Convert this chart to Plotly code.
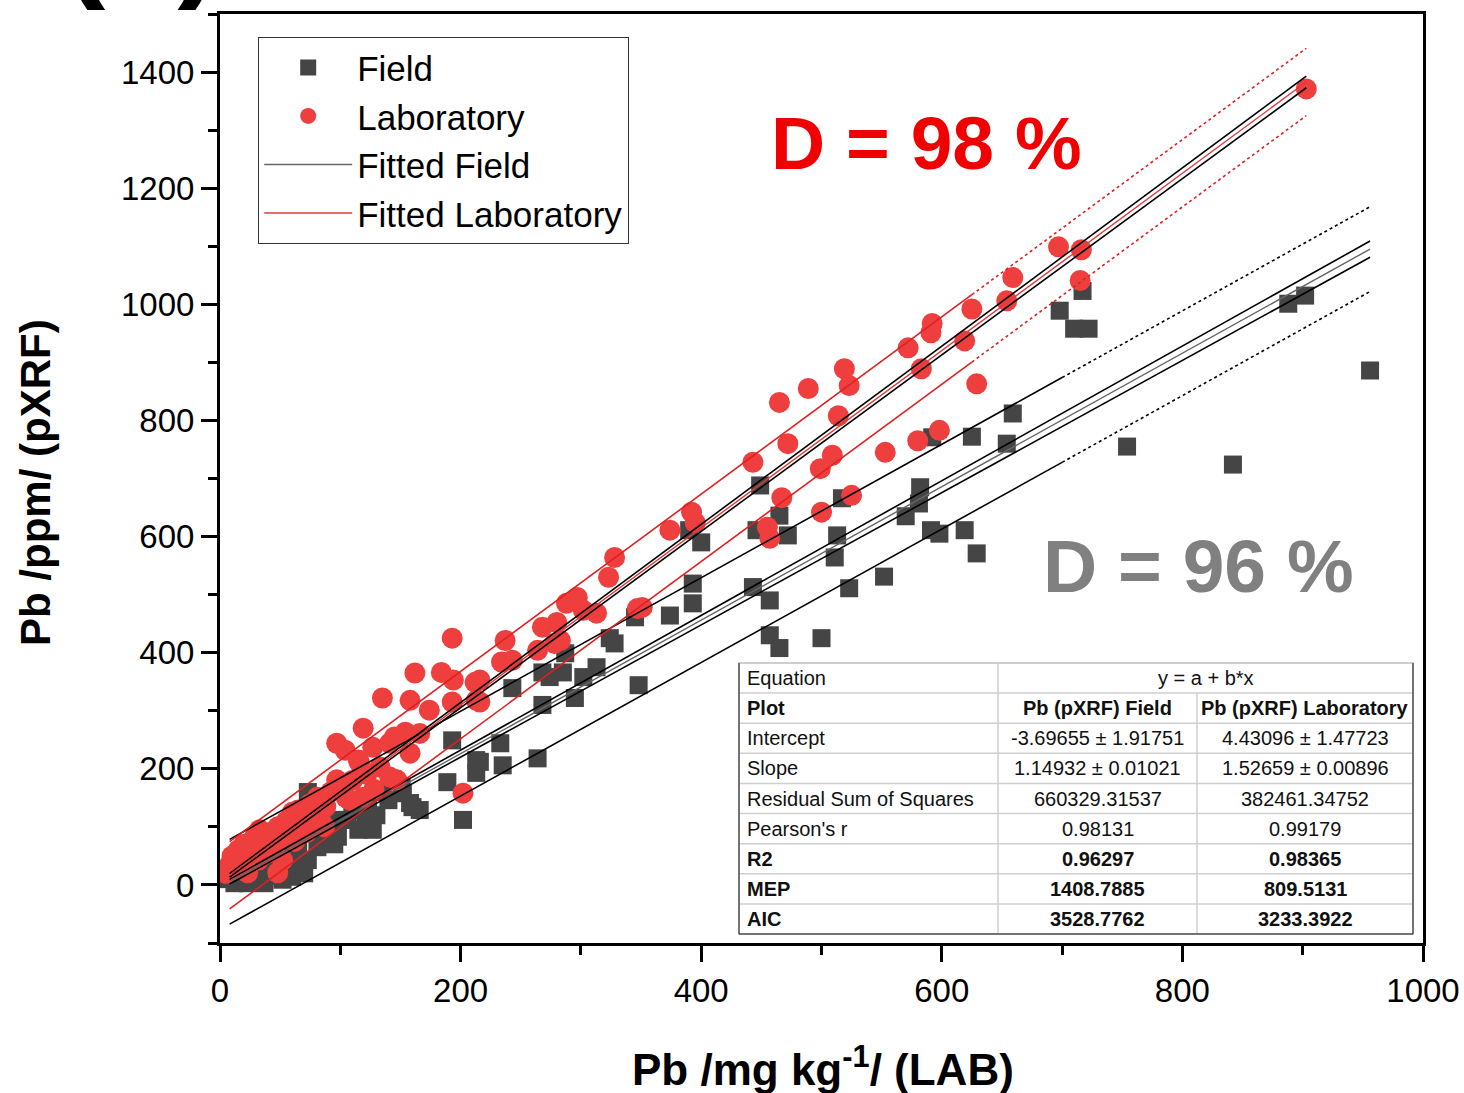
import plotly.graph_objects as go

# ---------------- data ----------------
# Field measurements: Pb by lab (x) vs Pb by pXRF in the field (y)
field_lab = [956, 902, 888, 842, 754, 717, 698, 710, 722, 659, 625, 654, 592, 582, 581, 570, 552,
             629, 619, 598, 591, 523, 517, 513, 511, 500, 465, 457, 457, 443, 449, 465, 472, 446,
             390, 400, 393, 393, 374, 345, 324, 328, 313, 302, 287, 285, 274, 295, 268, 243, 348,
             233, 235, 216, 264, 268, 213, 213, 193, 189, 158, 166, 202, 119, 102, 127, 97, 152,
             73, 101, 87, 106, 121, 123, 140, 151, 160, 85, 98, 81, 73, 68, 60, 52, 37, 23, 12,
             29, 62, 52, 5, 8, 15, 18, 25, 30, 35, 40, 45, 50, 55, 65, 70, 78, 90, 95, 110, 115,
             130, 135]
field_pxrf = [886, 1015, 1001, 724, 755, 1023, 989, 958, 958, 812, 772, 760, 771, 685, 657, 635, 531,
              571, 611, 605, 611, 511, 666, 602, 564, 425, 408, 430, 490, 513, 688, 636, 602, 611,
              611, 590, 519, 485, 464, 461, 425, 416, 375, 358, 399, 366, 358, 322, 310, 339, 344,
              244, 206, 212, 218, 366, 215, 193, 249, 177, 141, 129, 112, 129, 112, 95, 89, 158,
              160, 175, 138, 112, 112, 146, 146, 169, 134, 95, 83, 65, 43, 26, 14, 9, 3, 3, 3,
              14, 55, 31, 10, 20, 8, 25, 12, 30, 20, 40, 15, 50, 35, 70, 20, 90, 110, 70, 140, 95,
              120, 160]

# Laboratory measurements: Pb by lab (x) vs Pb by pXRF in the laboratory (y)
lab_lab = [903, 697, 716, 715, 659, 654, 625, 592, 591, 572, 619, 583, 629, 598, 580, 553, 519, 523,
           489, 465, 514, 472, 443, 509, 499, 525, 500, 467, 455, 457, 392, 395, 374, 351, 328, 323,
           347, 297, 288, 313, 302, 268, 280, 283, 278, 264, 237, 234, 243, 216, 216, 193, 162, 184,
           194, 135, 158, 174, 193, 212, 213, 119, 154, 166, 158, 141, 127, 97, 104, 116, 133, 141,
           147, 202, 119, 108, 97, 145, 115, 81, 65, 76, 87, 52, 37, 23, 12, 10, 32, 52, 48, 23, 40,
           5, 8, 10, 14, 15, 18, 20, 22, 25, 28, 30, 33, 35, 38, 42, 45, 48, 50, 55, 58, 60, 62, 66,
           70, 72, 75, 80, 84, 88, 92, 100, 105, 110, 122, 128]
lab_pxrf = [1371, 1099, 1094, 1041, 1046, 1006, 992, 967, 951, 925, 937, 889, 863, 783, 765, 745, 889,
            860, 855, 831, 808, 760, 728, 740, 717, 671, 642, 667, 616, 597, 642, 624, 611, 478, 564,
            530, 476, 495, 485, 468, 473, 444, 452, 421, 416, 404, 421, 384, 387, 353, 315, 425, 365,
            366, 353, 322, 318, 301, 315, 349, 318, 270, 263, 261, 227, 244, 237, 244, 232, 210, 203,
            186, 181, 158, 151, 146, 181, 255, 215, 151, 129, 117, 100, 89, 83, 65, 43, 26, 43, 43,
            21, 21, 55, 20, 35, 50, 30, 60, 45, 70, 40, 55, 80, 65, 95, 50, 75, 90, 60, 100, 80, 110,
            95, 125, 75, 105, 130, 90, 140, 120, 110, 135, 160, 165, 150, 180, 190, 165]

# Linear fits (from the table) and band half-widths read at the ends of each fitted span
field_intercept, field_slope = -3.69655, 1.14932
lab_intercept, lab_slope = 4.43096, 1.52659
field_span = [8, 956]
lab_span = [8, 903]
field_conf_half = [4, 14]
lab_conf_half = [3, 10]
field_pred_half = 73
lab_pred_half = 58
field_pred_dotted_from = 700
lab_pred_dotted_from = 625

x_ticks = [0, 200, 400, 600, 800, 1000]
y_ticks = [0, 200, 400, 600, 800, 1000, 1200, 1400]

table_labels = ["Equation", "Plot", "Intercept", "Slope", "Residual Sum of Squares",
                "Pearson's r", "R2", "MEP", "AIC"]
table_field = ["y = a + b*x", "Pb (pXRF) Field", "-3.69655 ± 1.91751", "1.14932 ± 0.01021",
               "660329.31537", "0.98131", "0.96297", "1408.7885", "3528.7762"]
table_lab = [None, "Pb (pXRF) Laboratory", "4.43096 ± 1.47723", "1.52659 ± 0.00896",
             "382461.34752", "0.99179", "0.98365", "809.5131", "3233.3922"]
table_bold = [False, True, False, False, False, False, True, True, True]

# ---------------- styling ----------------
FONT = 'Arial, "Liberation Sans", sans-serif'
RED = "#EE3E3E"
GRAY = "#454545"
W, H = 1464, 1093
ML, MR, MT, MB = 220, 41, 14, 150
PW, PH = W - ML - MR, H - MT - MB


def px(xp):
    return (xp - ML) / PW


def py(yp):
    return (H - MB - yp) / PH


fig = go.Figure()

fig.add_trace(go.Scatter(x=field_lab, y=field_pxrf, mode="markers", name="Field",
                         marker=dict(symbol="square", size=18, color=GRAY, line=dict(width=0))))
fig.add_trace(go.Scatter(x=lab_lab, y=lab_pxrf, mode="markers", name="Laboratory",
                         marker=dict(symbol="circle", size=21, color=RED, line=dict(width=0))))


def fit(a, b, xs):
    return [a + b * x for x in xs]


def add_group(a, b, span, conf, pred, dotted_from, center_color, pred_color, name):
    # confidence bands (black)
    for sgn in (1, -1):
        ys = [a + b * span[i] + sgn * conf[i] for i in range(2)]
        fig.add_trace(go.Scatter(x=span, y=ys, mode="lines", showlegend=False, hoverinfo="skip",
                                 line=dict(color="black", width=1.6)))
    # prediction bands: solid then dotted
    for sgn in (1, -1):
        xs_solid = [span[0], dotted_from]
        xs_dot = [dotted_from, span[1]]
        fig.add_trace(go.Scatter(x=xs_solid, y=[v + sgn * pred for v in fit(a, b, xs_solid)],
                                 mode="lines", showlegend=False, hoverinfo="skip",
                                 line=dict(color=pred_color, width=1.6)))
        fig.add_trace(go.Scatter(x=xs_dot, y=[v + sgn * pred for v in fit(a, b, xs_dot)],
                                 mode="lines", showlegend=False, hoverinfo="skip",
                                 line=dict(color=pred_color, width=1.6, dash="dot")))
    # fitted line
    fig.add_trace(go.Scatter(x=span, y=fit(a, b, span), mode="lines", name=name,
                             line=dict(color=center_color, width=1.4)))


add_group(field_intercept, field_slope, field_span, field_conf_half, field_pred_half,
          field_pred_dotted_from, "#666666", "black", "Fitted Field")
add_group(lab_intercept, lab_slope, lab_span, lab_conf_half, lab_pred_half,
          lab_pred_dotted_from, "#E03A3A", "#E02020", "Fitted Laboratory")

axis_common = dict(showline=True, linecolor="black", linewidth=3, mirror=True,
                   ticks="outside", ticklen=16, tickwidth=2.5, tickcolor="black",
                   showgrid=False, zeroline=False, automargin=False,
                   tickfont=dict(family=FONT, size=33, color="black"))

fig.update_xaxes(range=[0, 1000], tickvals=x_ticks, ticktext=[str(v) for v in x_ticks],
                 minor=dict(dtick=100, tick0=0, ticks="outside", ticklen=9, tickwidth=2.5,
                            tickcolor="black", showgrid=False),
                 **axis_common)
fig.update_yaxes(range=[-100, 1500], tickvals=y_ticks, ticktext=[str(v) for v in y_ticks],
                 minor=dict(dtick=100, tick0=0, ticks="outside", ticklen=9, tickwidth=2.5,
                            tickcolor="black", showgrid=False),
                 **axis_common)

shapes = []
annotations = []

# ---- statistics table ----
col_x = [739, 998, 1197, 1413]
ty0, ty1 = 663, 934
nrows = len(table_labels)
rh = (ty1 - ty0) / nrows
TFS = 20
shapes.append(dict(type="rect", xref="paper", yref="paper", x0=px(col_x[0]), x1=px(col_x[3]),
                   y0=py(ty1), y1=py(ty0), fillcolor="white",
                   line=dict(color="#bdbdbd", width=1.5), layer="above"))
for i in range(1, nrows):
    yy = py(ty0 + i * rh)
    shapes.append(dict(type="line", xref="paper", yref="paper", x0=px(col_x[0]), x1=px(col_x[3]),
                       y0=yy, y1=yy, line=dict(color="#cfcfcf", width=1.5), layer="above"))
shapes.append(dict(type="line", xref="paper", yref="paper", x0=px(col_x[1]), x1=px(col_x[1]),
                   y0=py(ty0), y1=py(ty1), line=dict(color="#cfcfcf", width=1.5), layer="above"))
shapes.append(dict(type="line", xref="paper", yref="paper", x0=px(col_x[2]), x1=px(col_x[2]),
                   y0=py(ty0 + rh), y1=py(ty1), line=dict(color="#cfcfcf", width=1.5), layer="above"))
# outer darker border (left, bottom, right)
shapes.append(dict(type="line", xref="paper", yref="paper", x0=px(col_x[0]), x1=px(col_x[0]),
                   y0=py(ty0), y1=py(ty1), line=dict(color="#555555", width=1.5), layer="above"))
shapes.append(dict(type="line", xref="paper", yref="paper", x0=px(col_x[0]), x1=px(col_x[3]),
                   y0=py(ty1), y1=py(ty1), line=dict(color="#555555", width=1.5), layer="above"))
shapes.append(dict(type="line", xref="paper", yref="paper", x0=px(col_x[3]), x1=px(col_x[3]),
                   y0=py(ty0), y1=py(ty1), line=dict(color="#555555", width=1.5), layer="above"))

for i in range(nrows):
    yc = py(ty0 + (i + 0.5) * rh)
    b = table_bold[i]
    wrap = (lambda s: "<b>" + s + "</b>") if b else (lambda s: s)
    annotations.append(dict(xref="paper", yref="paper", x=px(745), y=yc, xanchor="left",
                            yanchor="middle", text=wrap(table_labels[i]), showarrow=False,
                            font=dict(family=FONT, size=TFS, color="#111111")))
    if table_lab[i] is None:
        annotations.append(dict(xref="paper", yref="paper", x=px((col_x[1] + col_x[3]) / 2),
                                y=yc, xanchor="center", yanchor="middle",
                                text=wrap(table_field[i]), showarrow=False,
                                font=dict(family=FONT, size=TFS, color="#111111")))
    else:
        annotations.append(dict(xref="paper", yref="paper", x=px((col_x[1] + col_x[2]) / 2),
                                y=yc, xanchor="center", yanchor="middle",
                                text=wrap(table_field[i]), showarrow=False,
                                font=dict(family=FONT, size=TFS, color="#111111")))
        annotations.append(dict(xref="paper", yref="paper", x=px((col_x[2] + col_x[3]) / 2),
                                y=yc, xanchor="center", yanchor="middle",
                                text=wrap(table_lab[i]), showarrow=False,
                                font=dict(family=FONT, size=TFS, color="#111111")))

# ---- D annotations ----
annotations.append(dict(xref="paper", yref="paper", x=px(926), y=py(143), xanchor="center",
                        yanchor="middle", text="<b>D = 98 %</b>", showarrow=False,
                        font=dict(family=FONT, size=75, color="#F00000")))
annotations.append(dict(xref="paper", yref="paper", x=px(1198), y=py(566), xanchor="center",
                        yanchor="middle", text="<b>D = 96 %</b>", showarrow=False,
                        font=dict(family=FONT, size=75, color="#808080")))

# ---- axis titles ----
annotations.append(dict(xref="paper", yref="paper", x=px(35), y=py(483), xanchor="center",
                        yanchor="middle", textangle=-90, text="<b>Pb /ppm/ (pXRF)</b>",
                        showarrow=False, font=dict(family=FONT, size=42, color="black")))
annotations.append(dict(xref="paper", yref="paper", x=px(823), y=py(1066), xanchor="center",
                        yanchor="middle", text="<b>Pb /mg kg<sup>-1</sup>/ (LAB)</b>",
                        showarrow=False, font=dict(family=FONT, size=44, color="black")))

# ---- panel label (cut off at the top, as in the source) ----
annotations.append(dict(xref="paper", yref="paper", x=px(141), y=py(-62), xanchor="center",
                        yanchor="middle", text="<b>(a)</b>", showarrow=False,
                        font=dict(family=FONT, size=130, color="black")))

fig.update_layout(
    width=W, height=H,
    margin=dict(l=ML, r=MR, t=MT, b=MB, autoexpand=False),
    paper_bgcolor="white", plot_bgcolor="white",
    showlegend=True,
    legend=dict(x=px(258), y=py(37), xanchor="left", yanchor="top",
                bgcolor="white", bordercolor="#333333", borderwidth=1.2,
                font=dict(family=FONT, size=35, color="black"),
                itemwidth=88, tracegroupgap=0),
    shapes=shapes, annotations=annotations,
    font=dict(family=FONT),
)

fig.write_html("out.html")
